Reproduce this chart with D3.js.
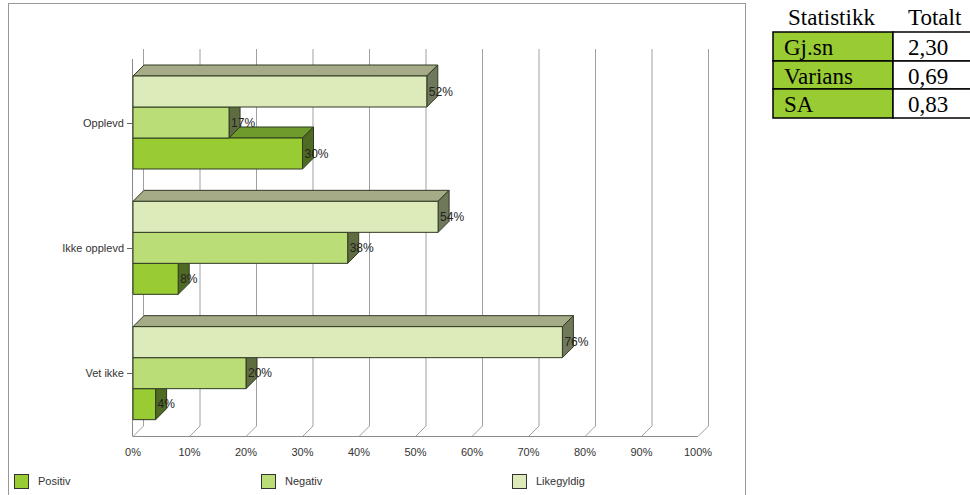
<!DOCTYPE html>
<html>
<head>
<meta charset="utf-8">
<script src="https://cdn.jsdelivr.net/npm/d3@7/dist/d3.min.js"></script>
<style>
  html, body { margin: 0; padding: 0; background: #fff; }
  svg { display: block; }
</style>
</head>
<body>
<svg id="chart" width="970" height="495"></svg>
<script>
// Categories (top to bottom) and answer series
const categories = ["Opplevd", "Ikke opplevd", "Vet ikke"];
const seriesNames = ["Positiv", "Negativ", "Likegyldig"];
const positiv    = [30, 8, 4];
const negativ    = [17, 38, 20];
const likegyldig = [52, 54, 76];
const xTicks = [0, 10, 20, 30, 40, 50, 60, 70, 80, 90, 100];

// Summary statistics table
const statNames  = ["Gj.sn", "Varians", "SA"];
const statValues = ["2,30", "0,69", "0,83"];

const values = { Positiv: positiv, Negativ: negativ, Likegyldig: likegyldig };
const colors = {
  Positiv:    { front: "#99cc33", top: "#6f9a2c", side: "#4f6a22" },
  Negativ:    { front: "#bbdd77", top: "#8ea65a", side: "#5f6c40" },
  Likegyldig: { front: "#ddebbb", top: "#a5aa87", side: "#6f785a" }
};

const svg = d3.select("#chart");
const font = "'Liberation Sans', Arial, sans-serif";

// Outer chart frame
svg.append("rect")
  .attr("x", 8.5).attr("y", 3.5).attr("width", 737).attr("height", 500)
  .attr("fill", "#fff").attr("stroke", "#999").attr("stroke-width", 1);

const depth = 11;      // 3D offset of bars
const wallDepth = 10;  // 3D offset of the back wall
const x = d3.scaleLinear().domain([0, 100]).range([133, 698]);
const y = d3.scaleBand().domain(categories).range([60, 436]);
const inner = d3.scaleBand().domain(["Likegyldig", "Negativ", "Positiv"]).range([16, 109]);

// Back wall gridlines and floor diagonals
const grid = svg.append("g");
xTicks.forEach(t => {
  grid.append("line")
    .attr("x1", x(t) + wallDepth + 0.5).attr("x2", x(t) + wallDepth + 0.5)
    .attr("y1", 49).attr("y2", 436 - wallDepth)
    .attr("stroke", "#a0a0a0");
  grid.append("line")
    .attr("x1", x(t) + 0.5).attr("y1", 436)
    .attr("x2", x(t) + wallDepth + 0.5).attr("y2", 436 - wallDepth)
    .attr("stroke", "#a0a0a0");
});

// Front axes
svg.append("line").attr("x1", x(0)).attr("x2", x(100)).attr("y1", 436.5).attr("y2", 436.5)
  .attr("stroke", "#8a8a8a");
svg.append("line").attr("x1", x(0) - 0.5).attr("x2", x(0) - 0.5).attr("y1", 59).attr("y2", 436.5)
  .attr("stroke", "#8a8a8a");

// X tick labels
svg.append("g").selectAll("text").data(xTicks).join("text")
  .attr("x", d => x(d)).attr("y", 456)
  .attr("text-anchor", "middle")
  .attr("font-family", font).attr("font-size", 11).attr("fill", "#333")
  .text(d => d + "%");

// Category ticks and labels
const catG = svg.append("g");
categories.forEach(c => {
  const cy = y(c) + y.bandwidth() / 2;
  catG.append("line").attr("x1", x(0) - 6).attr("x2", x(0) - 1)
    .attr("y1", Math.round(cy) + 0.5).attr("y2", Math.round(cy) + 0.5).attr("stroke", "#666");
  catG.append("text").attr("x", x(0) - 9).attr("y", cy + 4)
    .attr("text-anchor", "end")
    .attr("font-family", font).attr("font-size", 11).attr("fill", "#333")
    .text(c);
});

// Bars: draw bottom bar first so the bars above cover its top face
const barsG = svg.append("g");
const drawOrder = ["Positiv", "Negativ", "Likegyldig"];
categories.forEach((c, ci) => {
  drawOrder.forEach(s => {
    const v = values[s][ci];
    const x0 = x(0), x1 = x(v);
    const y0 = y(c) + inner(s), y1 = y0 + inner.bandwidth();
    const col = colors[s];
    const g = barsG.append("g").attr("stroke", "#2f3a22").attr("stroke-width", 1)
      .attr("stroke-linejoin", "round");
    // top face
    g.append("path")
      .attr("d", `M${x0},${y0} L${x0 + depth},${y0 - depth} L${x1 + depth},${y0 - depth} L${x1},${y0} Z`)
      .attr("fill", col.top);
    // side face
    g.append("path")
      .attr("d", `M${x1},${y0} L${x1 + depth},${y0 - depth} L${x1 + depth},${y1 - depth} L${x1},${y1} Z`)
      .attr("fill", col.side);
    // front face
    g.append("rect")
      .attr("x", x0).attr("y", y0).attr("width", x1 - x0).attr("height", y1 - y0)
      .attr("fill", col.front);
  });
});

// Value labels
categories.forEach((c, ci) => {
  seriesNames.forEach(s => {
    const v = values[s][ci];
    const y0 = y(c) + inner(s);
    svg.append("text")
      .attr("x", x(v) + 2).attr("y", y0 + inner.bandwidth() / 2 + 4)
      .attr("font-family", font).attr("font-size", 12).attr("fill", "#222")
      .text(v + "%");
  });
});

// Legend
const legendX = [14, 261, 512];
seriesNames.forEach((s, i) => {
  svg.append("rect").attr("x", legendX[i] + 0.5).attr("y", 474.5).attr("width", 14).attr("height", 14)
    .attr("fill", colors[s].front).attr("stroke", "#333");
  svg.append("text").attr("x", legendX[i] + 24).attr("y", 485)
    .attr("font-family", font).attr("font-size", 11).attr("fill", "#333")
    .text(s);
});

// Statistics table
const serif = "'Liberation Serif', 'Times New Roman', serif";
const tbl = svg.append("g");
const colX = [773, 893, 970];
const rowY = [32, 61, 89, 118];
tbl.append("text").attr("x", 788).attr("y", 25).attr("font-family", serif).attr("font-size", 23)
  .attr("fill", "#000").text("Statistikk");
tbl.append("text").attr("x", 908).attr("y", 25).attr("font-family", serif).attr("font-size", 23)
  .attr("fill", "#000").text("Totalt");
statNames.forEach((n, i) => {
  tbl.append("rect").attr("x", colX[0]).attr("y", rowY[i]).attr("width", colX[1] - colX[0])
    .attr("height", rowY[i + 1] - rowY[i]).attr("fill", "#99cc33")
    .attr("stroke", "#000").attr("stroke-width", 1.5);
  tbl.append("rect").attr("x", colX[1]).attr("y", rowY[i]).attr("width", colX[2] - colX[1] + 2)
    .attr("height", rowY[i + 1] - rowY[i]).attr("fill", "#fff")
    .attr("stroke", "#000").attr("stroke-width", 1.5);
  tbl.append("text").attr("x", 784).attr("y", rowY[i] + 23).attr("font-family", serif)
    .attr("font-size", 23).attr("fill", "#000").text(n);
  tbl.append("text").attr("x", 908).attr("y", rowY[i] + 23).attr("font-family", serif)
    .attr("font-size", 23).attr("fill", "#000").text(statValues[i]);
});
</script>
</body>
</html>
